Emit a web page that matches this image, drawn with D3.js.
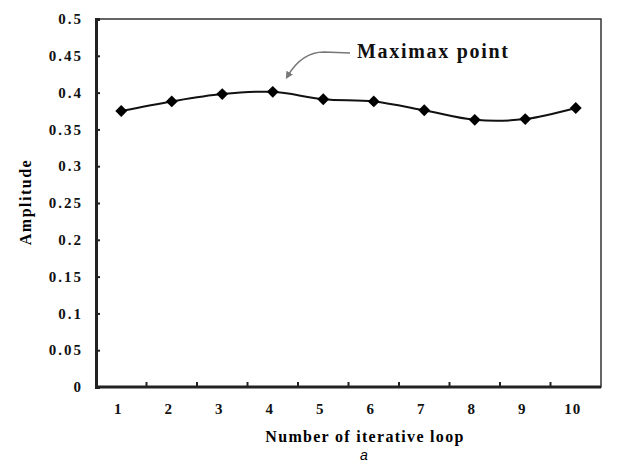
<!DOCTYPE html>
<html>
<head>
<meta charset="utf-8">
<script src="https://cdn.jsdelivr.net/npm/d3@7"></script>
<style>
  body { margin: 0; background: #fff; }
  text { font-family: "Liberation Serif", "DejaVu Serif", serif; }
</style>
</head>
<body>
<div id="chart"></div>
<script>
// Data
const loops = [1, 2, 3, 4, 5, 6, 7, 8, 9, 10];
const amplitude = [0.375, 0.388, 0.398, 0.401, 0.391, 0.388, 0.376, 0.363, 0.364, 0.379];
const yTicks = [0, 0.05, 0.1, 0.15, 0.2, 0.25, 0.3, 0.35, 0.4, 0.45, 0.5];
const yTickLabels = ["0", "0.05", "0.1", "0.15", "0.2", "0.25", "0.3", "0.35", "0.4", "0.45", "0.5"];

const width = 643, height = 464;
const margin = { top: 19, right: 42, bottom: 77, left: 96 };

const svg = d3.select("#chart")
  .append("svg")
  .attr("width", width)
  .attr("height", height);

const x = d3.scaleBand()
  .domain(loops)
  .range([margin.left, width - margin.right]);

const y = d3.scaleLinear()
  .domain([0, 0.5])
  .range([height - margin.bottom, margin.top]);

// plot frame
svg.append("rect")
  .attr("x", margin.left)
  .attr("y", margin.top)
  .attr("width", width - margin.right - margin.left)
  .attr("height", height - margin.bottom - margin.top)
  .attr("fill", "none")
  .attr("stroke", "#333")
  .attr("stroke-width", 1.5);

// left axis: ticks point inward
const yAxis = svg.append("g")
  .attr("transform", `translate(${margin.left},0)`)
  .call(d3.axisRight(y).tickValues(yTicks).tickSize(4).tickFormat(""));
yAxis.select(".domain").attr("stroke", "#222").attr("stroke-width", 3);
yAxis.selectAll(".tick line").attr("stroke", "#222").attr("stroke-width", 2);

svg.append("g")
  .selectAll("text")
  .data(yTicks)
  .enter()
  .append("text")
  .attr("x", margin.left - 13)
  .attr("y", (d) => y(d))
  .attr("dy", "0.35em")
  .attr("text-anchor", "end")
  .attr("font-size", 15)
  .attr("font-weight", "bold")
  .attr("letter-spacing", 2)
  .attr("fill", "#111")
  .text((d, i) => yTickLabels[i]);

// bottom axis: ticks at category borders, pointing up
const xBorders = loops.slice(1).map((d) => x(d));
const xAxis = svg.append("g")
  .attr("transform", `translate(0,${height - margin.bottom})`);
xAxis.append("line")
  .attr("x1", margin.left)
  .attr("x2", width - margin.right)
  .attr("stroke", "#222")
  .attr("stroke-width", 3);
xAxis.selectAll(".tk")
  .data(xBorders)
  .enter()
  .append("line")
  .attr("class", "tk")
  .attr("x1", (d) => d)
  .attr("x2", (d) => d)
  .attr("y1", 0)
  .attr("y2", -5)
  .attr("stroke", "#222")
  .attr("stroke-width", 2);

svg.append("g")
  .selectAll("text")
  .data(loops)
  .enter()
  .append("text")
  .attr("x", (d) => x(d) + x.bandwidth() / 2 - 3)
  .attr("y", height - margin.bottom + 27)
  .attr("text-anchor", "middle")
  .attr("font-size", 15)
  .attr("font-weight", "bold")
  .attr("letter-spacing", 1)
  .attr("fill", "#111")
  .text((d) => d);

// axis titles
svg.append("text")
  .attr("x", 365)
  .attr("y", 442)
  .attr("text-anchor", "middle")
  .attr("font-size", 16)
  .attr("font-weight", "bold")
  .attr("letter-spacing", 1.3)
  .text("Number of iterative loop");

svg.append("text")
  .attr("transform", "translate(31,202) rotate(-90)")
  .attr("text-anchor", "middle")
  .attr("font-size", 16)
  .attr("font-weight", "bold")
  .attr("letter-spacing", 1.5)
  .text("Amplitude");

svg.append("text")
  .attr("x", 364)
  .attr("y", 460)
  .attr("text-anchor", "middle")
  .attr("font-size", 14)
  .attr("font-style", "italic")
  .style("font-family", "'Liberation Sans', Arial, sans-serif")
  .text("a");

// smoothed line
const line = d3.line()
  .x((d, i) => x(loops[i]) + x.bandwidth() / 2)
  .y((d) => y(d))
  .curve(d3.curveCatmullRom.alpha(0.5));

svg.append("path")
  .datum(amplitude)
  .attr("d", line)
  .attr("fill", "none")
  .attr("stroke", "#111")
  .attr("stroke-width", 2);

// diamond markers
svg.append("g")
  .selectAll("path")
  .data(amplitude)
  .enter()
  .append("path")
  .attr("d", d3.symbol().type(d3.symbolDiamond2).size(90))
  .attr("transform", (d, i) => `translate(${x(loops[i]) + x.bandwidth() / 2},${y(d)})`)
  .attr("fill", "#000");

// annotation
const peak = amplitude.indexOf(d3.max(amplitude));
const px = x(loops[peak]) + x.bandwidth() / 2;
const py = y(amplitude[peak]);

svg.append("defs")
  .append("marker")
  .attr("id", "arrow")
  .attr("viewBox", "0 0 10 10")
  .attr("refX", 5)
  .attr("refY", 5)
  .attr("markerWidth", 5)
  .attr("markerHeight", 5)
  .attr("orient", "auto")
  .append("path")
  .attr("d", "M0,0 L10,5 L0,10 z")
  .attr("fill", "#777");

svg.append("path")
  .attr("d", `M350,53 L324,52 C308,52 296,62 ${px + 15},${py - 16}`)
  .attr("fill", "none")
  .attr("stroke", "#777")
  .attr("stroke-width", 1.5)
  .attr("marker-end", "url(#arrow)");

svg.append("text")
  .attr("x", 357)
  .attr("y", 58)
  .attr("font-size", 20)
  .attr("font-weight", "bold")
  .attr("letter-spacing", 1.7)
  .attr("fill", "#111")
  .text("Maximax point");
</script>
</body>
</html>
